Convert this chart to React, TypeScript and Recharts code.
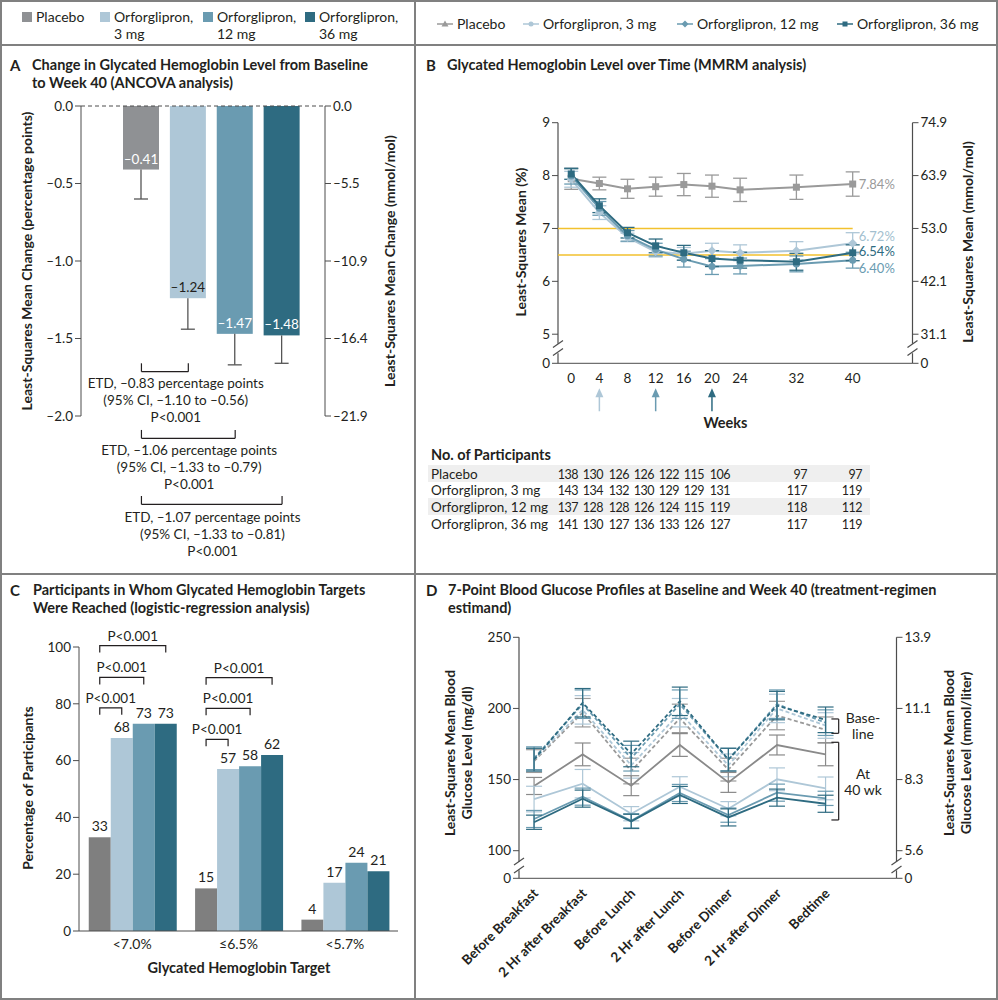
import React from 'react';
import {
  BarChart,
  Bar,
  LineChart,
  Line,
  XAxis,
  YAxis,
  ErrorBar,
  ReferenceLine,
  ReferenceDot,
  LabelList,
  Cell,
} from 'recharts';

const FONT = 'Lato, "Noto Sans", sans-serif';
const INK = '#231f20';
const AXIS = '#4d4d4d';
const GRAY = '#8f9194';
const GRAY_C = '#7f7f7f';
const GRAY_LINE = '#9a9a9a';
const LIGHT = '#aec7d7';
const MID = '#6a9bb1';
const DARK = '#2e6b81';
const GOLD = '#f2c12e';
const FRAME = '#808080';

// ---------- Panel A: change in HbA1c from baseline to week 40
const armsA = ['Placebo', '3 mg', '12 mg', '36 mg'];
const changeA = [-0.41, -1.24, -1.47, -1.48];
const ciLowA = [-0.6, -1.44, -1.67, -1.66];
const colorsA = [GRAY, LIGHT, MID, DARK];
const ticksA = [0, -0.5, -1, -1.5, -2];
const ticksAmmol = ['0.0', '–5.5', '–10.9', '–16.4', '–21.9'];
const etdVs = ['3 mg', '12 mg', '36 mg'];
const etdLevel = [-1.714, -2.144, -2.57];
const etdLines = [
  ['ETD, –0.83 percentage points', '(95% CI, –1.10 to –0.56)', 'P<0.001'],
  ['ETD, –1.06 percentage points', '(95% CI, –1.33 to –0.79)', 'P<0.001'],
  ['ETD, –1.07 percentage points', '(95% CI, –1.33 to –0.81)', 'P<0.001'],
];

// ---------- Panel B: HbA1c over time
const weeks = [0, 4, 8, 12, 16, 20, 24, 32, 40];
const hbaPlacebo = [7.94, 7.85, 7.75, 7.79, 7.83, 7.8, 7.73, 7.78, 7.84];
const hba3 = [7.93, 7.3, 6.83, 6.56, 6.52, 6.58, 6.54, 6.58, 6.72];
const hba12 = [7.99, 7.38, 6.86, 6.6, 6.42, 6.28, 6.29, 6.33, 6.4];
const hba36 = [8.03, 7.43, 6.92, 6.67, 6.54, 6.43, 6.4, 6.37, 6.54];
const errPlacebo = [0.2, 0.12, 0.18, 0.18, 0.21, 0.21, 0.22, 0.23, 0.23];
const err3 = [0.15, 0.13, 0.08, 0.1, 0.12, 0.14, 0.15, 0.17, 0.2];
const err12 = [0.15, 0.13, 0.1, 0.12, 0.15, 0.15, 0.15, 0.15, 0.15];
const err36 = [0.1, 0.13, 0.1, 0.13, 0.14, 0.15, 0.15, 0.16, 0.15];
const ticksB = [4.45, 5, 6, 7, 8, 9];
const ticksBmmol = ['0', '31.1', '42.1', '53.0', '63.9', '74.9'];
const doseStartWeek = [4, 12, 20];

const tableRows = ['Placebo', 'Orforglipron, 3 mg', 'Orforglipron, 12 mg', 'Orforglipron, 36 mg'];
const nPlacebo = [138, 130, 126, 126, 122, 115, 106, 97, 97];
const n3 = [143, 134, 132, 130, 129, 129, 131, 117, 119];
const n12 = [137, 128, 128, 126, 124, 115, 119, 118, 112];
const n36 = [141, 130, 127, 136, 133, 126, 127, 117, 119];
const tableCols = [578, 603, 629, 654, 679, 704, 730, 807, 862];

// ---------- Panel C: targets reached
const targets = ['<7.0%', '≤6.5%', '<5.7%'];
const pctPlacebo = [33, 15, 4];
const pct3 = [68, 57, 17];
const pct12 = [73, 58, 24];
const pct36 = [73, 62, 21];
const pBracketLevels = [
  [78.6, 89.3, 100.5],
  [67.5, 78.4, 89.2],
];

// ---------- Panel D: 7-point glucose profiles
const slots = [
  'Before Breakfast',
  '2 Hr after Breakfast',
  'Before Lunch',
  '2 Hr after Lunch',
  'Before Dinner',
  '2 Hr after Dinner',
  'Bedtime',
];
const basePlacebo = [163, 197, 156, 193, 157, 195, 185];
const base3 = [164, 199, 160, 197, 160, 200, 188];
const base12 = [165, 203, 165, 203, 164, 203, 190];
const base36 = [164, 204, 168, 205, 164, 202, 192];
const baseErr = [8, 10, 9, 10, 8, 10, 9];
const wk40Placebo = [145.5, 167.7, 145.7, 174.3, 148, 174.3, 167.7];
const wk40_3 = [136.3, 147.1, 126, 145, 129.5, 150.2, 143.8];
const wk40_12 = [122.3, 138, 121, 140.6, 125, 140.8, 136.8];
const wk40_36 = [120, 136.6, 120.6, 139.2, 123.4, 137.3, 133];
const errPlacebo40 = [6, 8, 7, 8, 7, 7, 8];
const err3_40 = [9, 10, 5, 7, 5, 8, 8];
const err12_40 = [6, 6, 5, 6, 5, 6, 5];
const err36_40 = [5, 6, 5, 6, 6, 6, 6];
const ticksD = [80.6, 100, 150, 200, 250];
const ticksDmmol = ['0', '5.6', '8.3', '11.1', '13.9'];

const fmt = (v: number, d: number) => (v < 0 ? '–' : '') + Math.abs(v).toFixed(d);

const T = ({ x, y, children, a = 'start', size = 14, w = 400, c = INK, ls = 0 }: any) => {
  const tx = a === 'middle' ? '-50%' : a === 'end' ? '-100%' : '0';
  return (
    <div
      style={{
        position: 'absolute',
        left: x,
        top: y,
        transform: `translate(${tx},-50%)`,
        fontSize: size,
        fontWeight: w,
        color: c,
        letterSpacing: ls,
        whiteSpace: 'nowrap',
        lineHeight: 1.2,
      }}
    >
      {children}
    </div>
  );
};

const VT = ({ x, y, children, size = 14 }: any) => (
  <div
    style={{
      position: 'absolute',
      left: x,
      top: y,
      transform: 'translate(-50%,-50%) rotate(-90deg)',
      fontSize: size,
      fontWeight: 700,
      whiteSpace: 'nowrap',
      textAlign: 'center',
      lineHeight: 1.2,
    }}
  >
    {children}
  </div>
);

const Marker = ({ kind, cx, cy, color, s = 3.5 }: any) => {
  if (kind === 'square') return <rect x={cx - s} y={cy - s} width={s * 2} height={s * 2} fill={color} />;
  if (kind === 'circle') return <circle cx={cx} cy={cy} r={s} fill={color} />;
  if (kind === 'diamond')
    return <path d={`M${cx},${cy - s - 1}L${cx + s + 1},${cy}L${cx},${cy + s + 1}L${cx - s - 1},${cy}Z`} fill={color} />;
  return <path d={`M${cx},${cy - s - 1}L${cx + s + 1},${cy + s}L${cx - s - 1},${cy + s}Z`} fill={color} />;
};

const dotOf = (kind: string, color: string) => (p: any) => {
  if (p.cx == null || p.cy == null) return <g key={p.index} />;
  return <Marker key={p.index} kind={kind} cx={p.cx} cy={p.cy} color={color} />;
};

const tickStyle = { fontSize: 13.5, fill: INK };

// ---------- Panel A shapes
const dataA = armsA.map((arm, i) => ({ arm, change: changeA[i], ciLow: ciLowA[i] }));

const BarA = (props: any) => {
  const { x, y, width, height, index } = props;
  const d = dataA[index];
  const top = Math.min(y, y + height);
  const h = Math.abs(height);
  const end = top + h;
  const ppu = h / Math.abs(d.change);
  const wEnd = end + (d.change - d.ciLow) * ppu;
  const cx = x + width / 2;
  return (
    <g>
      <rect x={x} y={top} width={width} height={h} fill={colorsA[index]} />
      <line x1={cx} x2={cx} y1={end} y2={wEnd} stroke="#555" strokeWidth={1.3} />
      <line x1={cx - 7} x2={cx + 7} y1={wEnd} y2={wEnd} stroke="#555" strokeWidth={1.3} />
      <text x={cx} y={end - 6} textAnchor="middle" fontSize={13.5} fill={d.arm === '3 mg' ? INK : '#fff'}>
        {fmt(d.change, 2)}
      </text>
    </g>
  );
};

// ---------- Panel C shapes
const dataC = targets.map((t, i) => ({ t, pl: pctPlacebo[i], m3: pct3[i], m12: pct12[i], m36: pct36[i] }));

const PlaceboC = (props: any) => {
  const { x, y, width, height, index } = props;
  const top = Math.min(y, y + height);
  const h = Math.abs(height);
  const base = top + h;
  const ppu = h / pctPlacebo[index];
  const cx0 = x + width / 2;
  const levels = pBracketLevels[index];
  return (
    <g>
      <rect x={x} y={top} width={width} height={h} fill={GRAY_C} />
      {levels &&
        levels.map((lv, k) => {
          const yy = base - lv * ppu;
          const x1 = cx0 + (k + 1) * width;
          return (
            <g key={k}>
              <path d={`M${cx0},${yy + 7}V${yy}H${x1}V${yy + 7}`} stroke={INK} strokeWidth={1.2} fill="none" />
              <text x={(cx0 + x1) / 2} y={yy - 5} textAnchor="middle" fontSize={13.5} fill={INK}>
                {'P<0.001'}
              </text>
            </g>
          );
        })}
    </g>
  );
};

// ---------- Panel B data
const dataB = weeks.map((week, i) => ({
  week,
  pl: hbaPlacebo[i],
  plE: errPlacebo[i],
  m3: hba3[i],
  m3E: err3[i],
  m12: hba12[i],
  m12E: err12[i],
  m36: hba36[i],
  m36E: err36[i],
}));

const endLabelsB = [
  { v: hbaPlacebo[8], c: GRAY_LINE, dy: 5 },
  { v: hba3[8], c: '#a3bfcf', dy: -2.5 },
  { v: hba36[8], c: DARK, dy: 3.5 },
  { v: hba12[8], c: MID, dy: 12.5 },
];
const arrowColors = [LIGHT, MID, DARK];

const BreakMark = (p: any) => (
  <g stroke={AXIS} strokeWidth={1.2}>
    <line x1={p.cx - 5} y1={p.cy - 1} x2={p.cx + 5} y2={p.cy - 8} />
    <line x1={p.cx - 5} y1={p.cy + 7} x2={p.cx + 5} y2={p.cy} />
  </g>
);

// ---------- Panel D data
const dataD = slots.map((s, i) => ({
  i,
  bPl: basePlacebo[i],
  bM3: base3[i],
  bM12: base12[i],
  bM36: base36[i],
  bE: baseErr[i],
  wPl: wk40Placebo[i],
  wPlE: errPlacebo40[i],
  wM3: wk40_3[i],
  wM3E: err3_40[i],
  wM12: wk40_12[i],
  wM12E: err12_40[i],
  wM36: wk40_36[i],
  wM36E: err36_40[i],
}));

const SlotTick = (p: any) => {
  const { x, y, payload } = p;
  return (
    <g transform={`translate(${x + 5},${y + 8})`}>
      <text textAnchor="end" transform="rotate(-45)" fontSize={13.5} fontWeight={700} fill={INK}>
        {slots[payload.value]}
      </text>
    </g>
  );
};

const legendA = [
  { c: GRAY, l1: 'Placebo', l2: '', x: 22 },
  { c: LIGHT, l1: 'Orforglipron,', l2: '3 mg', x: 100 },
  { c: MID, l1: 'Orforglipron,', l2: '12 mg', x: 203 },
  { c: DARK, l1: 'Orforglipron,', l2: '36 mg', x: 305 },
];
const legendB = [
  { c: GRAY_LINE, k: 'triangle', l: 'Placebo', x: 437 },
  { c: LIGHT, k: 'circle', l: 'Orforglipron, 3 mg', x: 523 },
  { c: MID, k: 'diamond', l: 'Orforglipron, 12 mg', x: 677 },
  { c: DARK, k: 'square', l: 'Orforglipron, 36 mg', x: 837 },
];

const Hl = ({ y }: any) => <div style={{ position: 'absolute', left: 0, top: y, width: 998, height: 2, background: FRAME }} />;

export default function App() {
  const seg = (x1: any, y1: number, x2: any, y2: number) => [
    { x: x1, y: y1 },
    { x: x2, y: y2 },
  ];
  return (
    <div
      style={{
        position: 'absolute',
        left: 0,
        top: 0,
        width: 998,
        height: 1000,
        background: '#fff',
        fontFamily: FONT,
        color: INK,
        overflow: 'hidden',
      }}
    >
      {/* frame */}
      <div
        style={{
          position: 'absolute',
          left: 0,
          top: 0,
          width: 998,
          height: 1000,
          border: `2px solid ${FRAME}`,
          boxSizing: 'border-box',
        }}
      />
      <Hl y={44} />
      <Hl y={573} />
      <div style={{ position: 'absolute', left: 414, top: 0, width: 2, height: 1000, background: FRAME }} />

      {/* legends */}
      {legendA.map((g) => (
        <React.Fragment key={g.x}>
          <div style={{ position: 'absolute', left: g.x, top: 12, width: 10, height: 10, background: g.c }} />
          <T x={g.x + 14} y={17}>
            {g.l1}
          </T>
          {g.l2 && (
            <T x={g.x + 14} y={34}>
              {g.l2}
            </T>
          )}
        </React.Fragment>
      ))}
      {legendB.map((g) => (
        <React.Fragment key={g.x}>
          <svg style={{ position: 'absolute', left: g.x, top: 17 }} width={16} height={14}>
            <line x1={0} x2={16} y1={7} y2={7} stroke={g.c} strokeWidth={1.5} />
            <Marker kind={g.k} cx={8} cy={7} color={g.c} s={2.5} />
          </svg>
          <T x={g.x + 20} y={24}>
            {g.l}
          </T>
        </React.Fragment>
      ))}

      {/* ---------- Panel A ---------- */}
      <T x={10} y={65} size={15} w={700}>A</T>
      <T x={32} y={65} size={14.5} w={700}>Change in Glycated Hemoglobin Level from Baseline</T>
      <T x={32} y={83} size={14.5} w={700}>to Week 40 (ANCOVA analysis)</T>
      <VT x={27} y={261}>Least-Squares Mean Change (percentage points)</VT>
      <VT x={390} y={261}>Least-Squares Mean Change (mmol/mol)</VT>
      <BarChart
        width={415}
        height={520}
        data={dataA}
        margin={{ top: 58, right: 30, bottom: 152, left: 21 }}
        style={{ position: 'absolute', left: 0, top: 48 }}
      >
        <XAxis dataKey="arm" hide padding={{ left: 37, right: 19.5 }} />
        <YAxis
          yAxisId="l"
          domain={[-2, 0]}
          ticks={ticksA}
          allowDataOverflow
          tickFormatter={(v: number) => fmt(v, 1)}
          width={60}
          stroke={AXIS}
          tick={tickStyle}
        />
        <YAxis
          yAxisId="r"
          orientation="right"
          domain={[-2, 0]}
          ticks={ticksA}
          allowDataOverflow
          tickFormatter={(v: number) => ticksAmmol[ticksA.indexOf(v)]}
          width={60}
          stroke={AXIS}
          tick={tickStyle}
        />
        <ReferenceLine yAxisId="l" y={0} stroke={AXIS} strokeDasharray="4 3" />
        <Bar yAxisId="l" dataKey="change" barSize={36} shape={BarA} isAnimationActive={false}>
          {dataA.map((d, i) => (
            <Cell key={d.arm} fill={colorsA[i]} />
          ))}
        </Bar>
        {etdVs.map((arm, k) => (
          <ReferenceLine
            key={`h${k}`}
            yAxisId="l"
            ifOverflow="visible"
            segment={seg('Placebo', etdLevel[k], arm, etdLevel[k])}
            stroke={INK}
            strokeWidth={1.2}
          />
        ))}
        {etdVs.map((arm, k) => (
          <ReferenceLine
            key={`a${k}`}
            yAxisId="l"
            ifOverflow="visible"
            segment={seg('Placebo', etdLevel[k], 'Placebo', etdLevel[k] + 0.054)}
            stroke={INK}
            strokeWidth={1.2}
          />
        ))}
        {etdVs.map((arm, k) => (
          <ReferenceLine
            key={`b${k}`}
            yAxisId="l"
            ifOverflow="visible"
            segment={seg(arm, etdLevel[k], arm, etdLevel[k] + 0.054)}
            stroke={INK}
            strokeWidth={1.2}
          />
        ))}
      </BarChart>
      {etdLines.map((lines, k) =>
        lines.map((line, j) => (
          <T key={`${k}-${j}`} x={[175.8, 189.2, 212.5][k]} y={[383.3, 450, 516.7][k] + j * 17} a="middle" size={13.5}>
            {line}
          </T>
        ))
      )}

      {/* ---------- Panel B ---------- */}
      <T x={426} y={65} size={15} w={700}>B</T>
      <T x={447} y={65} size={14.5} w={700}>Glycated Hemoglobin Level over Time (MMRM analysis)</T>
      <VT x={521} y={242}>Least-Squares Mean (%)</VT>
      <VT x={968} y={242}>Least-Squares Mean (mmol/mol)</VT>
      <LineChart
        width={583}
        height={400}
        data={dataB}
        margin={{ top: 74.7, right: 25.5, bottom: 54.7, left: 83 }}
        style={{ position: 'absolute', left: 415, top: 48 }}
      >
        <XAxis
          type="number"
          dataKey="week"
          domain={[-1.88, 48.5]}
          ticks={weeks}
          interval={0}
          allowDataOverflow
          tickLine={false}
          stroke={AXIS}
          tick={{ ...tickStyle, dy: 2 }}
          height={30}
        />
        <YAxis
          yAxisId="l"
          domain={[4.45, 9]}
          ticks={ticksB}
          allowDataOverflow
          axisLine={false}
          tickFormatter={(v: number) => (v < 5 ? '0' : String(v))}
          width={60}
          stroke={AXIS}
          tick={tickStyle}
        />
        <YAxis
          yAxisId="r"
          orientation="right"
          domain={[4.45, 9]}
          ticks={ticksB}
          allowDataOverflow
          axisLine={false}
          tickFormatter={(v: number) => ticksBmmol[ticksB.indexOf(v)]}
          width={60}
          stroke={AXIS}
          tick={tickStyle}
        />
        <ReferenceLine yAxisId="l" ifOverflow="visible" segment={seg(-1.88, 4.45, -1.88, 4.64)} stroke={AXIS} strokeWidth={1.2} />
        <ReferenceLine yAxisId="l" ifOverflow="visible" segment={seg(-1.88, 4.82, -1.88, 9)} stroke={AXIS} strokeWidth={1.2} />
        <ReferenceLine yAxisId="l" ifOverflow="visible" segment={seg(48.5, 4.45, 48.5, 4.64)} stroke={AXIS} strokeWidth={1.2} />
        <ReferenceLine yAxisId="l" ifOverflow="visible" segment={seg(48.5, 4.82, 48.5, 9)} stroke={AXIS} strokeWidth={1.2} />
        <ReferenceDot yAxisId="l" x={-1.88} y={4.73} ifOverflow="visible" shape={BreakMark} />
        <ReferenceDot yAxisId="l" x={48.5} y={4.73} ifOverflow="visible" shape={BreakMark} />
        <ReferenceLine yAxisId="l" ifOverflow="visible" segment={seg(-1.88, 7, 40, 7)} stroke={GOLD} strokeWidth={1.5} />
        <ReferenceLine yAxisId="l" ifOverflow="visible" segment={seg(-1.88, 6.5, 40, 6.5)} stroke={GOLD} strokeWidth={1.5} />
        <Line yAxisId="l" dataKey="pl" stroke={GRAY_LINE} strokeWidth={2} dot={dotOf('square', GRAY_LINE)} isAnimationActive={false}>
          <ErrorBar dataKey="plE" width={7} stroke={GRAY_LINE} strokeWidth={1.3} direction="y" />
        </Line>
        <Line yAxisId="l" dataKey="m3" stroke={LIGHT} strokeWidth={2} dot={dotOf('diamond', LIGHT)} isAnimationActive={false}>
          <ErrorBar dataKey="m3E" width={7} stroke={LIGHT} strokeWidth={1.3} direction="y" />
        </Line>
        <Line yAxisId="l" dataKey="m12" stroke={MID} strokeWidth={2} dot={dotOf('circle', MID)} isAnimationActive={false}>
          <ErrorBar dataKey="m12E" width={7} stroke={MID} strokeWidth={1.3} direction="y" />
        </Line>
        <Line yAxisId="l" dataKey="m36" stroke={DARK} strokeWidth={2} dot={dotOf('square', DARK)} isAnimationActive={false}>
          <ErrorBar dataKey="m36E" width={7} stroke={DARK} strokeWidth={1.3} direction="y" />
        </Line>
        {endLabelsB.map((e, k) => (
          <ReferenceDot
            key={k}
            yAxisId="l"
            x={40}
            y={e.v}
            ifOverflow="visible"
            shape={(p: any) => (
              <text x={p.cx + 6} y={p.cy + e.dy} fontSize={13} fill={e.c}>
                {e.v.toFixed(2)}%
              </text>
            )}
          />
        ))}
        {doseStartWeek.map((w, k) => (
          <ReferenceDot
            key={`ar${k}`}
            yAxisId="l"
            x={w}
            y={3.77}
            ifOverflow="visible"
            shape={(p: any) => (
              <g>
                <line x1={p.cx} x2={p.cx} y1={p.cy - 4} y2={p.cy + 12} stroke={arrowColors[k]} strokeWidth={1.5} />
                <path
                  d={`M${p.cx},${p.cy - 11}L${p.cx + 4},${p.cy - 2}L${p.cx - 4},${p.cy - 2}Z`}
                  fill={arrowColors[k]}
                />
              </g>
            )}
          />
        ))}
      </LineChart>
      <T x={725.5} y={423} a="middle" size={14.5} w={700}>Weeks</T>

      {/* participants table */}
      <T x={431} y={455} size={14.5} w={700}>No. of Participants</T>
      {[nPlacebo, n3, n12, n36].map((row, r) => (
        <React.Fragment key={r}>
          {r % 2 === 0 && (
            <div
              style={{
                position: 'absolute',
                left: 428,
                top: 465 + r * 16.7,
                width: 442,
                height: 16.7,
                background: '#efefef',
              }}
            />
          )}
          <T x={431} y={473.5 + r * 16.7} size={13.5}>
            {tableRows[r]}
          </T>
          {row.map((n, j) => (
            <T key={j} x={tableCols[j]} y={473.5 + r * 16.7} a="end" size={12.5} ls={-0.5}>
              {n}
            </T>
          ))}
        </React.Fragment>
      ))}

      {/* ---------- Panel C ---------- */}
      <T x={10} y={590} size={15} w={700}>C</T>
      <T x={33} y={590} size={14.5} w={700}>Participants in Whom Glycated Hemoglobin Targets</T>
      <T x={33} y={608} size={14.5} w={700}>Were Reached (logistic-regression analysis)</T>
      <VT x={28} y={788}>Percentage of Participants</VT>
      <BarChart
        width={415}
        height={425}
        data={dataC}
        margin={{ top: 72, right: 17, bottom: 39, left: 29 }}
        barCategoryGap={9.75}
        barGap={0}
        style={{ position: 'absolute', left: 0, top: 575 }}
      >
        <XAxis dataKey="t" tickLine={false} stroke={AXIS} tick={{ ...tickStyle, fontSize: 14 }} height={30} interval={0} />
        <YAxis domain={[0, 100]} ticks={[0, 20, 40, 60, 80, 100]} width={50} stroke={AXIS} tick={tickStyle} />
        <Bar dataKey="pl" fill={GRAY_C} shape={PlaceboC} isAnimationActive={false}>
          <LabelList dataKey="pl" position="top" offset={6} fontSize={14} fill={INK} />
        </Bar>
        <Bar dataKey="m3" fill={LIGHT} isAnimationActive={false}>
          <LabelList dataKey="m3" position="top" offset={6} fontSize={14} fill={INK} />
        </Bar>
        <Bar dataKey="m12" fill={MID} isAnimationActive={false}>
          <LabelList dataKey="m12" position="top" offset={6} fontSize={14} fill={INK} />
        </Bar>
        <Bar dataKey="m36" fill={DARK} isAnimationActive={false}>
          <LabelList dataKey="m36" position="top" offset={6} fontSize={14} fill={INK} />
        </Bar>
      </BarChart>
      <T x={239} y={968} a="middle" size={14.5} w={700}>Glycated Hemoglobin Target</T>

      {/* ---------- Panel D ---------- */}
      <T x={426} y={590} size={15} w={700}>D</T>
      <T x={448} y={590} size={14.5} w={700}>7-Point Blood Glucose Profiles at Baseline and Week 40 (treatment-regimen</T>
      <T x={448} y={608} size={14.5} w={700}>estimand)</T>
      <VT x={459} y={753}>
        Least-Squares Mean Blood
        <br />
        Glucose Level (mg/dl)
      </VT>
      <VT x={958} y={753}>
        Least-Squares Mean Blood
        <br />
        Glucose Level (mmol/liter)
      </VT>
      <LineChart
        width={583}
        height={425}
        data={dataD}
        margin={{ top: 62.3, right: 41.5, bottom: 11.7, left: 44 }}
        style={{ position: 'absolute', left: 415, top: 575 }}
      >
        <XAxis
          type="number"
          dataKey="i"
          domain={[-0.31, 7.46]}
          ticks={[0, 1, 2, 3, 4, 5, 6]}
          interval={0}
          allowDataOverflow
          tickLine={false}
          stroke={AXIS}
          tick={<SlotTick />}
          height={110}
        />
        <YAxis
          yAxisId="l"
          domain={[80.6, 250]}
          ticks={ticksD}
          allowDataOverflow
          axisLine={false}
          tickFormatter={(v: number) => (v < 90 ? '0' : String(v))}
          width={60}
          stroke={AXIS}
          tick={tickStyle}
        />
        <YAxis
          yAxisId="r"
          orientation="right"
          domain={[80.6, 250]}
          ticks={ticksD}
          allowDataOverflow
          axisLine={false}
          tickFormatter={(v: number) => ticksDmmol[ticksD.indexOf(v)]}
          width={60}
          stroke={AXIS}
          tick={tickStyle}
        />
        <ReferenceLine yAxisId="l" ifOverflow="visible" segment={seg(-0.31, 80.6, -0.31, 86.2)} stroke={AXIS} strokeWidth={1.2} />
        <ReferenceLine yAxisId="l" ifOverflow="visible" segment={seg(-0.31, 92.3, -0.31, 250)} stroke={AXIS} strokeWidth={1.2} />
        <ReferenceLine yAxisId="l" ifOverflow="visible" segment={seg(7.46, 80.6, 7.46, 86.2)} stroke={AXIS} strokeWidth={1.2} />
        <ReferenceLine yAxisId="l" ifOverflow="visible" segment={seg(7.46, 92.3, 7.46, 250)} stroke={AXIS} strokeWidth={1.2} />
        <ReferenceDot yAxisId="l" x={-0.31} y={89.3} ifOverflow="visible" shape={BreakMark} />
        <ReferenceDot yAxisId="l" x={7.46} y={89.3} ifOverflow="visible" shape={BreakMark} />
        {[
          ['bPl', GRAY_LINE],
          ['bM3', LIGHT],
          ['bM12', MID],
          ['bM36', DARK],
        ].map(([k, c]) => (
          <Line key={k} yAxisId="l" dataKey={k} stroke={c} strokeWidth={1.8} strokeDasharray="4 2.5" dot={false} isAnimationActive={false}>
            <ErrorBar dataKey="bE" width={8} stroke={c} strokeWidth={1.2} direction="y" />
          </Line>
        ))}
        {[
          ['wPl', '#8a8a8a'],
          ['wM3', LIGHT],
          ['wM12', MID],
          ['wM36', DARK],
        ].map(([k, c]) => (
          <Line key={k} yAxisId="l" dataKey={k} stroke={c} strokeWidth={1.8} dot={false} isAnimationActive={false}>
            <ErrorBar dataKey={`${k}E`} width={8} stroke={c} strokeWidth={1.2} direction="y" />
          </Line>
        ))}
        {[
          [192.6, 182.5],
          [176.2, 121.6],
        ].map(([hi, lo], k) => (
          <ReferenceLine
            key={`bv${k}`}
            yAxisId="l"
            ifOverflow="visible"
            segment={seg(6.27, hi, 6.27, lo)}
            stroke={INK}
            strokeWidth={1.2}
          />
        ))}
        {[192.6, 182.5, 176.2, 121.6].map((v, k) => (
          <ReferenceLine
            key={`bh${k}`}
            yAxisId="l"
            ifOverflow="visible"
            segment={seg(6.12, v, 6.27, v)}
            stroke={INK}
            strokeWidth={1.2}
          />
        ))}
      </LineChart>
      <T x={863} y={718} a="middle" size={14}>Base-</T>
      <T x={863} y={734} a="middle" size={14}>line</T>
      <T x={863} y={774} a="middle" size={14}>At</T>
      <T x={863} y={790} a="middle" size={14}>40 wk</T>
    </div>
  );
}
